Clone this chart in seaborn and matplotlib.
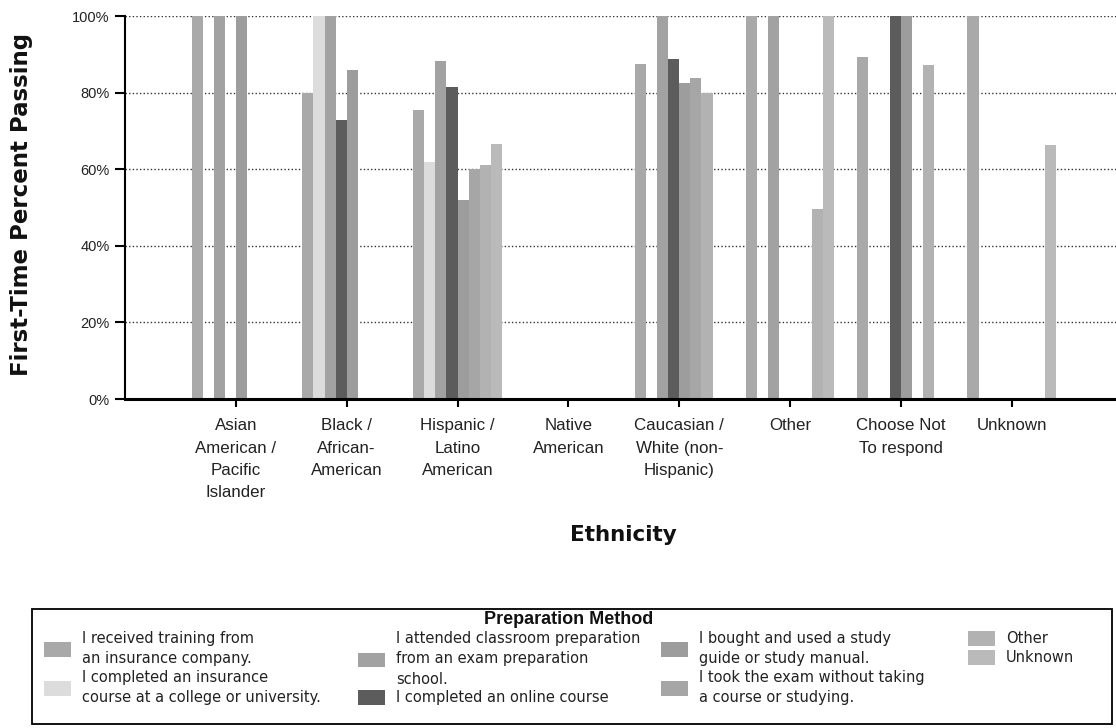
import numpy as np
import pandas as pd
import matplotlib
matplotlib.use("Agg")
import matplotlib.pyplot as plt
from matplotlib.patches import Rectangle
import seaborn as sns

nan = np.nan

# ---------------- data ----------------
categories = [
    "Asian\nAmerican /\nPacific\nIslander",
    "Black /\nAfrican-\nAmerican",
    "Hispanic /\nLatino\nAmerican",
    "Native\nAmerican",
    "Caucasian /\nWhite (non-\nHispanic)",
    "Other",
    "Choose Not\nTo respond",
    "Unknown",
]
methods = [
    "I received training from\nan insurance company.",
    "I completed an insurance\ncourse at a college or university.",
    "I attended classroom preparation\nfrom an exam preparation\nschool.",
    "I completed an online course",
    "I bought and used a study\nguide or study manual.",
    "I took the exam without taking\na course or studying.",
    "Other",
    "Unknown",
]
training_company = [100, 80, 75.5, nan, 87.5, 100, 89.4, 100]
college_course   = [nan, 100, 62.0, nan, nan, nan, nan, nan]
classroom_school = [100, 100, 88.3, nan, 100, 100, nan, nan]
online_course    = [nan, 72.8, 81.5, nan, 88.7, nan, 100, nan]
study_guide      = [100, 86.0, 52.0, nan, 82.4, nan, 100, nan]
no_course        = [nan, nan, 60.0, nan, 83.7, nan, nan, nan]
other_method     = [nan, nan, 61.0, nan, 80.0, 49.6, 87.2, nan]
unknown_method   = [nan, nan, 66.6, nan, nan, 100, nan, 66.3]

y_ticks = [0, 20, 40, 60, 80, 100]
y_tick_labels = ["0%", "20%", "40%", "60%", "80%", "100%"]

series = [training_company, college_course, classroom_school, online_course,
          study_guide, no_course, other_method, unknown_method]
colors = ["#a9a9a9", "#dcdcdc", "#a2a2a2", "#5c5c5c",
          "#9d9d9d", "#a6a6a6", "#b2b2b2", "#bababa"]

rows = []
for m, vals in zip(methods, series):
    for c, v in zip(categories, vals):
        if not np.isnan(v):
            rows.append({"Ethnicity": c, "Method": m, "Pct": v})
df = pd.DataFrame(rows)

# ---------------- style ----------------
sns.set_style("white")
plt.rcParams["font.family"] = ["Liberation Sans", "DejaVu Sans"]

W, H = 1116, 728
fig = plt.figure(figsize=(W / 100, H / 100), dpi=100)
ax = fig.add_axes([125 / W, 1 - 399 / H, 1 - 125 / W, 383 / H])

sns.barplot(data=df, x="Ethnicity", y="Pct", hue="Method",
            order=categories, hue_order=methods, palette=colors,
            width=0.8, gap=0, saturation=1, errorbar=None, ax=ax,
            linewidth=0)

ax.set_xlim(-1, 7.94)
ax.set_ylim(0, 100)
ax.set_yticks(y_ticks)
ax.set_yticklabels(y_tick_labels, fontsize=10.5, color="#222")
ax.set_xlabel("")
ax.set_ylabel("")
for lab in ax.get_xticklabels():
    lab.set_fontsize(12.2)
    lab.set_color("#222")
    lab.set_linespacing(1.6)

for y in y_ticks[1:]:
    ax.axhline(y, color="#333333", lw=1.0, ls=(0, (1, 1.6)), zorder=0)

for s in ["top", "right"]:
    ax.spines[s].set_visible(False)
ax.spines["left"].set_color("black")
ax.spines["left"].set_linewidth(1.5)
ax.spines["bottom"].set_color("black")
ax.spines["bottom"].set_linewidth(2.2)
ax.tick_params(axis="y", direction="out", length=7, width=1.5, color="black", left=True, pad=4)
ax.tick_params(axis="x", direction="out", length=6, width=1.5, color="black", bottom=True, pad=8)

fig.text(22 / W, 1 - 204 / H, "First-Time Percent Passing", rotation=90,
         ha="center", va="center", fontsize=16.5, fontweight="bold",
         family="DejaVu Sans", color="#111")
fig.text(623 / W, 1 - 535 / H, "Ethnicity", ha="center", va="center",
         fontsize=15.5, fontweight="bold", family="DejaVu Sans", color="#111")

# ---------------- legend ----------------
old = ax.get_legend()
handles = old.legend_handles
labels = [t.get_text() for t in old.get_texts()]
old.remove()
for h in handles:
    h.set_linewidth(0)

# frame and title of the legend box
fig.add_artist(Rectangle((32 / W, 1 - 724 / H), 1080 / W, 115 / H,
                         transform=fig.transFigure, fill=False,
                         edgecolor="black", linewidth=1.3))
fig.text(569 / W, 1 - 620 / H, "Preparation Method", ha="center", va="center",
         fontsize=13, fontweight="bold", family="Liberation Sans", color="#111")

col_x = [44, 358, 661, 968]
for i, x0 in enumerate(col_x):
    leg = fig.legend(handles[2 * i:2 * i + 2], labels[2 * i:2 * i + 2],
                     loc="upper left",
                     bbox_to_anchor=(x0 / W, 1 - 631 / H),
                     frameon=False, borderpad=0, borderaxespad=0,
                     prop={"family": "DejaVu Sans", "size": 10.5},
                     handlelength=1.85, handleheight=1.2, handletextpad=0.75,
                     labelspacing=0.22)
    for t in leg.get_texts():
        t.set_linespacing(1.45)
        t.set_color("#222")

fig.savefig("out.png", dpi=100)
